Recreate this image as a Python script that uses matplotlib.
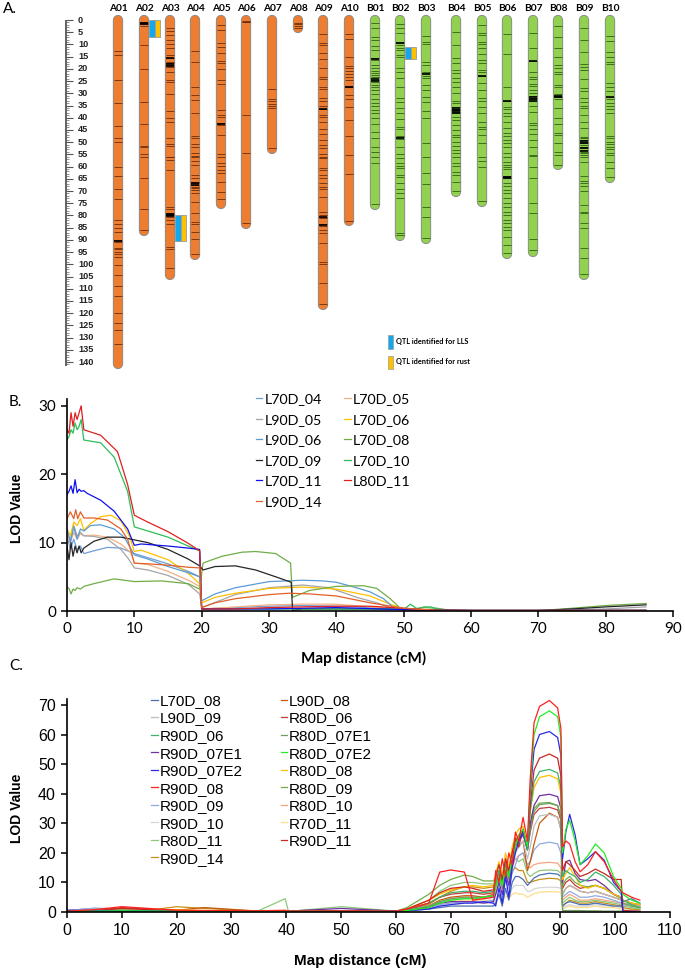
import matplotlib
matplotlib.use('Agg')
import matplotlib.pyplot as plt
from matplotlib.patches import Rectangle

plt.rcParams['font.family'] = ['Liberation Sans', 'DejaVu Sans']

# ---------------- panel A data (cM) ----------------
chrom_names = ['A01', 'A02', 'A03', 'A04', 'A05', 'A06', 'A07', 'A08', 'A09', 'A10',
               'B01', 'B02', 'B03', 'B04', 'B05', 'B06', 'B07', 'B08', 'B09', 'B10']
chrom_len = [141, 86.5, 104.5, 96.3, 75.2, 83.4, 52.7, 3.4, 116.5, 82.4,
             75.6, 88.4, 89.5, 70.4, 74.5, 95.7, 95, 59.5, 104.3, 64.7]
chrom_xpx = [118, 144, 170, 195, 221, 246, 272, 298, 323, 349,
             375, 400, 426, 456, 482, 507, 533, 558, 584, 610]

markers = {
    'A01': [12.7, 14.3, 24.5, 34, 43.4, 48.4, 49.8, 60.3, 63.7, 69.3, 73.3, 82, 83.5, 85.3, 86.6, 90, 90.7,
            93.2, 93.9, 94.8, 95.8, 96.9, 100.3, 104.5, 108.8, 112.8, 119.8, 123.9, 126.9, 132.8],
    'A02': [0.7, 1.4, 1.6, 2.5, 10.2, 20.2, 33.6, 42.7, 51.4, 52.1, 54.8, 55.9, 64.8, 77.5, 85.8],
    'A03': [3.4, 4.4, 6.1, 8.2, 9.8, 11.6, 14.3, 15.7, 17, 17.7, 18.4, 19.1, 21.1, 24.6, 25.2, 30.4, 37.1,
            40.2, 41.9, 48.2, 50.9, 51.6, 55.9, 56.2, 57.3, 61.4, 76.4, 77.5, 78.9, 79.5, 80.0, 80.5, 81.9,
            83.5, 92.8, 93.9, 101.6],
    'A04': [12.5, 17.3, 27.6, 30.7, 32.7, 38.2, 47.5, 48.4, 50.8, 51.9, 54.3, 55.7, 56.2, 57.6, 59.4, 63.4,
            64.8, 66.2, 66.9, 67.5, 68.2, 68.9, 69.6, 70.9, 74.6, 78.9, 82.5, 83.5, 86.6, 89.8, 95.8],
    'A05': [2, 4.1, 9.3, 10.9, 13.6, 16.8, 17.7, 20.1, 24.6, 26.2, 36.8, 38.9, 39.8, 42.3, 43, 47.1, 54.8,
            56.2, 58.7, 59.8, 61.4, 62.8, 66.2, 70.3, 73.3],
    'A06': [0.3, 0.7, 1.0, 38.9, 54.6, 83.0],
    'A07': [28.4, 32.3, 33.2, 34.5, 35.2, 36.2, 52.4],
    'A08': [1.1, 1.8, 2.5, 3.3],
    'A09': [5.9, 9.6, 10.2, 13.6, 16.1, 19.5, 23.2, 24.3, 27.3, 28.4, 32, 33, 35.2, 36.6, 38.9, 39.8, 41.9,
            44.8, 46.8, 49.1, 51.2, 52.5, 54.8, 55.9, 56.6, 60.7, 61.4, 63.4, 64.8, 66.9, 68.2, 69.2, 72.3,
            78.4, 79.8, 80.5, 81.2, 83.5, 84.3, 86, 87.1, 91.4, 98.9, 99.9, 107.5, 116.2],
    'A10': [5.9, 7.8, 15, 18.8, 19.8, 20.9, 22.1, 23.5, 24.6, 27, 27.6, 30.7, 32.5, 35.5, 41, 47.5, 55.3,
            63, 82.2],
    'B01': [1.4, 3.4, 7.1, 8.2, 10.6, 12.3, 15.7, 16.4, 18.4, 19.8, 20.7, 21.6, 22.5, 23.5, 24.5, 25.5, 26.5,
            27.5, 28.6, 30.4, 32.5, 34.1, 35.2, 36.8, 38.2, 40.2, 42.6, 45.7, 48.4, 51.8, 53.9, 55.9, 58.4, 75.3],
    'B02': [1.6, 3.4, 5.5, 8.9, 9.6, 10.2, 11.6, 12.3, 14.3, 15.3, 19.8, 21.1, 23.9, 27.6, 32, 33.4, 36.1,
            38.2, 40.7, 43.7, 44.5, 47.5, 48, 48.8, 51.8, 54.8, 56.4, 58.4, 59.8, 60.7, 63.4, 64.1, 66.9, 69.3,
            70.7, 72.7, 87.1, 88.2],
    'B03': [6.5, 8.9, 9.8, 17, 18.4, 21.1, 21.8, 22.9, 23.9, 26.6, 28.6, 31.4, 33.4, 37.1, 40.2, 50.5, 55.9,
            62.5, 67.1, 76.7, 80.8, 89.2],
    'B04': [4.8, 10.2, 15.7, 17.7, 20.5, 21.6, 23.9, 25.2, 27.6, 29.8, 33, 33.9, 35.8, 36.4, 37, 37.6, 38.2,
            39.8, 40.9, 43, 45, 47.1, 48, 49.8, 51.6, 53.2, 54.3, 55.9, 58.7, 59.8, 62.1, 63.4, 66.4, 70.1],
    'B05': [2, 5.5, 6.1, 8.9, 9.8, 11.6, 13.9, 16.4, 17.7, 20.5, 21.1, 22.9, 25.9, 28.6, 32, 33, 35.5, 38.2,
            41.6, 43.7, 44.7, 47.1, 50.5, 55.9, 57.6, 60, 74.2],
    'B06': [5.7, 13.9, 27.6, 33, 35.5, 36.6, 38.2, 39.3, 41.6, 44.4, 46.4, 47.5, 49.1, 50.5, 51.8, 54.6, 56,
            58, 59.4, 60, 61.1, 63.9, 64.4, 64.8, 66.9, 67.9, 69.6, 70.9, 73, 75, 76.4, 78.4, 79.8, 81.9, 83.2,
            84.6, 86, 89, 92.1, 95.4],
    'B07': [5.2, 11.6, 16.6, 21.1, 23.2, 24.3, 26.2, 27, 28.6, 29.8, 31.1, 31.8, 32.5, 33.2, 35.2, 37.5, 42,
            43, 44.8, 46.7, 49.1, 51.8, 55.3, 55.7, 60, 64.8, 75, 79.1, 89.8, 94.1],
    'B08': [2.5, 6.8, 11.6, 15, 18.4, 19.8, 21.1, 22.1, 26.6, 27.6, 30.2, 31, 31.6, 32.3, 36.1, 40.2, 42.6,
            46.4, 47.1, 50.5, 53.9, 55.3, 59.2],
    'B09': [3.4, 8.2, 12.9, 18, 19.1, 20.5, 24.3, 27.9, 28.9, 32, 33.4, 35.2, 36.1, 38.9, 41.6, 44.4, 47.7,
            48.4, 49.1, 49.8, 50.5, 51.2, 51.8, 52.5, 53.2, 53.9, 54.6, 55.3, 55.9, 58, 63.9, 65.9, 66.9, 67.8,
            69.9, 75.7, 78.4, 79.1, 83.2, 85.3, 93.5, 97.6, 104.0],
    'B10': [6.5, 8.4, 12.9, 15, 17, 18, 25.9, 27.3, 28.9, 31.4, 32.5, 33.8, 35.2, 36.5, 37.9, 47.5, 48.4,
            49.8, 50.8, 51.8, 52.9, 54.6, 55.3, 58, 60.7, 64.4],
}
dark_markers = {
    'A01': [90.3], 'A02': [1.2, 1.6], 'A03': [15.7, 18, 18.7, 79.3, 79.8, 80.3], 'A04': [66.9, 67.5],
    'A05': [42.7], 'A09': [36.6, 80.8, 83.8], 'A10': [27.3], 'B01': [16, 24, 25], 'B02': [9.6, 48.2],
    'B03': [22], 'B04': [36.2, 36.8, 37.4, 38], 'B05': [22.9], 'B06': [33, 64.2, 64.6],
    'B07': [16.6, 31.5, 32.3, 33], 'B08': [31, 31.6], 'B09': [49.5, 50.5, 52.3, 53.5], 'B10': [31.4],
}

qtl_chrom = ['A02', 'A03', 'B02']
qtl_start = [0, 80, 11]
qtl_end = [7, 90.5, 16]

# ---------------- panel B data ----------------
b_series = ['L70D_04', 'L70D_05', 'L90D_05', 'L70D_06', 'L90D_06', 'L70D_08',
            'L70D_09', 'L70D_10', 'L70D_11', 'L80D_11', 'L90D_14']
b_colors = {'L70D_04': '#6f9fd8', 'L70D_05': '#f4b183', 'L90D_05': '#a5a5a5', 'L70D_06': '#ffc000',
            'L90D_06': '#5b9bd5', 'L70D_08': '#70ad47', 'L70D_09': '#262626', 'L70D_10': '#2ebd59',
            'L70D_11': '#1010ee', 'L80D_11': '#e02020', 'L90D_14': '#e2602a'}

bx_L70D_04 = [0, 0.5, 1, 1.5, 2, 2.5, 4, 6, 8, 10, 12, 15, 18, 19.7, 20, 25, 30, 35, 40, 45, 50, 55, 60, 70, 80, 86]
by_L70D_04 = [11, 9, 10.5, 9, 9.5, 8.4, 8.8, 9.3, 9.2, 8.4, 7.8, 6.9, 5.8, 5, 0.3, 0.5, 0.7, 0.8, 0.7, 0.5, 0.2,
              0.1, 0.05, 0.05, 0.05, 0.05]
bx_L70D_05 = [0, 0.5, 1, 1.5, 2, 2.5, 4, 6, 8, 9.5, 10, 12, 15, 18, 19.7, 20, 25, 30, 35, 40, 45, 50, 55, 60, 70,
              80, 86]
by_L70D_05 = [11, 10, 11.5, 10.5, 11.3, 11, 11.1, 10.8, 9.8, 8.5, 7, 6.8, 5.8, 4.5, 3.6, 0.3, 0.6, 0.9, 1, 1, 0.6,
              0.3, 0.1, 0.05, 0.05, 0.05, 0.05]
bx_L90D_05 = [0, 0.5, 1, 1.5, 2, 2.5, 4, 6, 8, 9, 10, 12, 15, 18, 19.7, 20, 25, 30, 35, 39, 43, 46, 48.5, 50, 55,
              60, 70, 80, 86]
by_L90D_05 = [11.5, 10.5, 12.5, 11, 11.5, 11, 10.9, 10.5, 9, 7.8, 6.3, 6, 5.2, 3.9, 2.5, 0.5, 2.4, 3.4, 3.8, 3.4,
              2, 1.2, 0.3, 0.2, 0.1, 0.05, 0.05, 0.3, 0.6]
bx_L70D_06 = [0, 0.5, 1, 1.5, 2, 2.5, 3.5, 5, 6.5, 8, 9.3, 10, 11, 15, 18, 19.7, 20, 22, 25, 30, 35, 40, 45, 48,
              50, 55, 60, 70, 80, 86]
by_L70D_06 = [12, 11, 13, 12.5, 13.5, 11.8, 12.8, 13.8, 14, 13.2, 10.9, 8.7, 8.9, 7.5, 5.5, 4.0, 1.2, 2, 2.6, 3.3,
              3.5, 3.2, 2.2, 1, 0.3, 0.1, 0.05, 0.05, 0.05, 0.05]
bx_L90D_06 = [0, 0.5, 1, 1.5, 2, 2.5, 3.5, 5, 7, 8.5, 10, 12, 15, 18, 19.7, 20, 22, 25, 30, 35, 38, 40, 43, 45,
              47, 48.5, 50, 55, 60, 70, 80, 86]
by_L90D_06 = [12, 10, 12.3, 10.5, 12, 11.7, 12.5, 12.6, 12, 10.8, 8.2, 7.6, 6.5, 5.6, 5, 1.5, 2.5, 3.4, 4.3, 4.5,
              4.4, 4.2, 3.4, 2.8, 1.8, 0.5, 0.3, 0.1, 0.05, 0.05, 0.05, 0.05]
bx_L70D_08 = [0, 0.3, 0.6, 0.9, 1.2, 1.5, 2, 2.5, 4, 7, 10, 14, 18, 19.7, 20.2, 21, 23, 26, 28, 31, 33.2, 33.5,
              36, 40, 44, 46, 48, 49.5, 51, 53, 55, 57, 60, 70, 75, 80, 86]
by_L70D_08 = [3.5, 3.3, 2.5, 3.2, 3, 3.4, 3.2, 3.6, 4, 4.7, 4.3, 4.4, 4.0, 3.2, 7, 7.3, 8, 8.6, 8.7, 8.4, 7, 2, 3,
              3.6, 3.7, 3.3, 1.8, 0.4, 0.3, 0.5, 0.4, 0.1, 0.05, 0.05, 0.4, 0.8, 1.1]
bx_L70D_09 = [0, 0.3, 0.6, 0.9, 1.2, 1.5, 1.8, 2.1, 2.5, 4, 6, 8, 10, 12, 15, 18, 19.7, 20.2, 22, 25, 28, 31,
              33.3, 33.5, 35, 40, 45, 50, 55, 60, 70, 75, 80, 86]
by_L70D_09 = [9.5, 7.5, 10, 8, 9.5, 8.5, 9.5, 8.5, 9.2, 10.2, 10.8, 10.8, 10.4, 10, 9, 7.6, 6.6, 6, 6.5, 6.6, 6,
              5, 4.2, 0.1, 0.3, 0.3, 0.3, 0.2, 0.1, 0.05, 0.05, 0.3, 0.6, 0.9]
bx_L70D_10 = [0, 0.3, 0.6, 0.9, 1.2, 1.5, 1.8, 2.1, 2.5, 5, 7, 9, 10, 11, 15, 18, 19.7, 20, 30, 40, 48, 50, 51,
              52, 53, 54, 55, 56, 60, 70, 80, 86]
by_L70D_10 = [25, 25.5, 26.5, 26, 27.5, 26.5, 27, 28, 25, 24.6, 22.5, 17.5, 12.3, 12, 10.8, 9.5, 8.8, 0.3, 0.3,
              0.3, 0.3, 0.2, 1.0, 0.3, 0.6, 0.6, 0.3, 0.1, 0.1, 0.1, 0.1, 0.1]
bx_L70D_11 = [0, 0.3, 0.6, 0.9, 1.2, 1.5, 1.8, 2.1, 2.5, 3, 5, 7, 9, 10, 11, 15, 18, 19.7, 20, 30, 40, 50, 60,
              70, 80, 86]
by_L70D_11 = [17, 17.5, 18.3, 17.2, 19.2, 17.3, 17.8, 17.5, 17.6, 17.2, 16.2, 14.6, 12, 9.6, 9.8, 9.5, 9.2, 9.0,
              0.3, 0.3, 0.5, 0.2, 0.1, 0.1, 0.1, 0.1]
bx_L80D_11 = [0, 0.3, 0.6, 0.9, 1.2, 1.5, 1.8, 2.1, 2.5, 5, 7.5, 9, 10, 12, 15, 18, 19.7, 20, 25, 30, 35, 40, 45,
              50, 55, 60, 70, 80, 86]
by_L80D_11 = [26.5, 26, 29, 27, 29, 28, 29, 30, 26.5, 25.7, 23.3, 18.5, 14, 13, 11.6, 9.9, 8.8, 0.3, 0.3, 0.5,
              0.6, 0.7, 0.7, 0.4, 0.1, 0.1, 0.1, 0.1, 0.1]
bx_L90D_14 = [0, 0.5, 1, 1.3, 1.6, 2, 2.5, 4, 6, 8, 9, 10, 12, 15, 18, 19.7, 20, 22, 25, 30, 33, 36, 40, 45, 50,
              55, 60, 70, 80, 86]
by_L90D_14 = [13.5, 14.5, 13.5, 14.8, 13.5, 14.5, 13.6, 13.6, 13.3, 12, 10.5, 7, 6.9, 6.7, 6.4, 6.3, 0.5, 1.2,
              1.8, 2.4, 2.6, 2.5, 2.2, 1.2, 0.4, 0.1, 0.05, 0.05, 0.05, 0.05]

b_data = {
    'L70D_04': (bx_L70D_04, by_L70D_04), 'L70D_05': (bx_L70D_05, by_L70D_05),
    'L90D_05': (bx_L90D_05, by_L90D_05), 'L70D_06': (bx_L70D_06, by_L70D_06),
    'L90D_06': (bx_L90D_06, by_L90D_06), 'L70D_08': (bx_L70D_08, by_L70D_08),
    'L70D_09': (bx_L70D_09, by_L70D_09), 'L70D_10': (bx_L70D_10, by_L70D_10),
    'L70D_11': (bx_L70D_11, by_L70D_11), 'L80D_11': (bx_L80D_11, by_L80D_11),
    'L90D_14': (bx_L90D_14, by_L90D_14),
}
b_legend_order = ['L70D_04', 'L90D_05', 'L90D_06', 'L70D_09', 'L70D_11', 'L90D_14',
                  'L70D_05', 'L70D_06', 'L70D_08', 'L70D_10', 'L80D_11']

# ---------------- panel C data ----------------
c_x = [0, 5, 10, 15, 20, 25, 35, 39.8, 40.4, 50, 60,
       62, 66, 68, 70, 72.5, 74, 76, 77.8,
       78.2, 78.8, 79.4, 80, 80.6, 81.2, 81.8, 82.4, 83.2, 84,
       84.5, 85.2, 86.2, 88, 89.5, 90.1, 90.4,
       91, 91.7, 92.7, 93.6, 95, 96.4, 98, 99.7, 101.1, 101.4, 103, 104.5]

c_L70D_08 = [0.5, 1.2, 0.8, 0.5, 0.3, 0.3, 0.3, 0.3, 0.2, 0.3, 0.2,
             0.3, 1, 1.5, 2, 2, 2, 2, 2,
             3, 6, 2, 8, 4, 10, 12, 12, 11, 9,
             10, 11.5, 12.5, 13.1, 12.8, 12, 2,
             3, 3.5, 3, 2.5, 2.5, 3, 2.5, 2, 2, 3.5, 4.5, 3]
c_L90D_09 = [0.4, 1, 0.8, 0.6, 0.4, 0.3, 0.3, 0.3, 0.2, 0.3, 0.2,
             0.5, 2, 3.5, 4, 4.5, 4.5, 4.5, 5,
             8, 12, 8, 14, 10, 16, 20, 22, 24, 18,
             22, 29, 32.5, 33, 32, 28, 6,
             8, 9, 8, 7, 6.5, 7, 6, 5, 4, 3, 2.5, 2]
c_R90D_06 = [0.3, 0.5, 0.6, 0.5, 0.4, 0.3, 0.3, 0.4, 0.2, 0.3, 0.2,
             0.8, 3, 5, 6.5, 7, 7, 6.5, 7,
             10, 14, 9, 17, 13, 19, 24, 25, 27, 21,
             34, 44, 47.5, 48.2, 47, 42, 12,
             14, 13, 12, 10, 11, 13.5, 12, 9, 6, 4, 2.5, 1.5]
c_R90D_07E1 = [0.2, 0.3, 0.3, 0.3, 0.3, 0.3, 0.3, 0.4, 0.3, 1.2, 0.3,
               0.5, 1.5, 3, 3.5, 3.5, 3.5, 3, 3.5,
               6, 10, 6, 13, 9, 16, 22, 24, 26, 21,
               30, 36, 39.3, 39.8, 39, 35, 10,
               17, 17.5, 13, 11, 10.5, 11, 9, 6, 5, 0.5, 0.3, 0.2]
c_R90D_07E2 = [0.6, 0.5, 0.4, 0.3, 0.3, 0.3, 0.2, 0.3, 0.2, 0.3, 0.3,
               0.5, 1, 2, 2.5, 3, 3, 3.5, 3,
               2, 8, 3, 12, 5, 15, 20, 24, 27, 22,
               40, 55, 60, 61, 59, 53, 18,
               27, 33, 26, 16, 18, 20.4, 17.5, 10, 7, 0, 0, 0]
c_R90D_08 = [0.3, 0.8, 1.8, 1.2, 0.6, 0.5, 0.4, 0.6, 0.3, 0.4, 0.3,
             1, 3, 13.5, 14.2, 13.5, 4, 4.5, 5,
             14, 10, 18, 12, 20, 16, 27, 24, 32, 24,
             45, 64, 69.5, 71.5, 69, 62, 22,
             24, 23, 17, 13.6, 16, 20.4, 17, 11, 7, 6.5, 5, 4]
c_R90D_09 = [0.5, 1.3, 1, 0.6, 0.4, 0.3, 0.3, 0.3, 0.2, 0.3, 0.2,
             0.4, 1.5, 2.5, 3, 3.5, 3.5, 3.5, 4,
             6, 9, 5, 11, 8, 13, 16, 19, 20, 16,
             17, 21, 23, 23.6, 23, 20, 5,
             6, 7, 6, 5, 5, 5.5, 5, 4, 3, 2.5, 2, 1.5]
c_R90D_10 = [0.2, 0.3, 0.4, 0.4, 0.3, 0.3, 0.3, 0.3, 0.2, 0.3, 0.2,
             0.3, 1, 2, 2.5, 3, 3, 3, 3,
             4, 6, 4, 7, 5, 8, 9, 9, 9, 7,
             7, 7.8, 8.2, 8.4, 8.3, 8, 1.5,
             2, 2.5, 2, 2, 2, 2.5, 2, 2, 1.5, 1, 1, 0.8]
c_R80D_11 = [0.3, 0.3, 0.3, 0.3, 0.3, 0.3, 0.5, 4.5, 0.2, 1.8, 0.3,
             1, 4, 7, 9, 10, 10, 9.5, 9.5,
             10, 13, 10, 15, 12, 16, 18, 17, 18, 13,
             12, 13, 14, 14.2, 14, 13, 3,
             4, 5, 4, 3.5, 3.5, 4, 3.5, 3, 2.5, 2, 1.5, 1]
c_R90D_14 = [0.3, 0.4, 0.5, 0.6, 1.8, 1.2, 0.3, 0.3, 0.2, 0.3, 0.2,
             0.6, 2.5, 5, 7, 8.5, 8.5, 8, 8.5,
             10, 12, 9, 13, 10, 14, 15, 14, 14, 10,
             10, 10.5, 11, 11.4, 11.2, 10.5, 2,
             3, 4, 3.5, 3, 3, 3.5, 3, 2.5, 2, 1.5, 1, 0.8]
c_L90D_08 = [0.2, 0.3, 0.5, 0.4, 0.6, 1.5, 0.3, 0.3, 0.2, 0.3, 0.2,
             0.5, 2, 4, 5, 5.5, 5.5, 5, 6,
             9, 13, 9, 15, 11, 17, 21, 22, 24, 14,
             17, 23, 30, 33.4, 32, 28, 6,
             8, 9, 8, 7, 6.5, 7, 6, 5, 4, 3, 2.5, 2]
c_R80D_06 = [0.2, 0.4, 1.5, 1, 0.5, 0.3, 0.3, 0.3, 0.2, 0.3, 0.2,
             0.8, 3, 5, 6, 6.5, 6.5, 6, 6.5,
             10, 14, 10, 16, 12, 18, 23, 25, 27, 21,
             27, 33, 35, 35.4, 34.5, 31, 8,
             10, 11, 9, 8, 8.5, 9, 8, 6, 5, 4, 3, 2.5]
c_R80D_07E1 = [0.2, 0.3, 0.3, 0.3, 0.3, 0.3, 0.2, 0.3, 0.2, 0.3, 0.2,
               0.5, 2, 3.5, 4.5, 5, 5, 5, 5.5,
               9, 13, 8, 15, 11, 18, 22, 25, 27, 21,
               28, 34, 36.3, 36.7, 36, 32, 0.5,
               0.5, 0.5, 0.5, 0.5, 0.4, 0.4, 0.3, 0.3, 0.3, 0.3, 0.2, 0.2]
c_R80D_07E2 = [0.2, 0.3, 0.4, 0.3, 0.3, 0.2, 0.2, 0.3, 0.2, 0.3, 0.2,
               0.5, 1.5, 3, 4, 4.5, 4.5, 5, 5.5,
               8, 12, 9, 15, 12, 18, 22, 26, 28, 22,
               42, 60, 66, 68, 66, 59, 20,
               28, 31, 24, 16, 19, 23, 20, 12, 8, 6, 4, 3]
c_R80D_08 = [0.3, 0.5, 0.6, 0.6, 0.8, 0.5, 0.3, 0.3, 0.2, 0.3, 0.2,
             1, 4, 6, 7.5, 8.5, 9, 8.5, 9,
             13, 17, 12, 20, 15, 22, 26, 28, 29, 22,
             34, 42, 45.5, 46.2, 45, 40, 11,
             13, 15, 12, 9, 8, 9, 8, 6, 5, 4, 3, 2.5]
c_R80D_09 = [0.3, 0.4, 0.5, 0.4, 0.3, 0.3, 0.3, 0.3, 0.2, 0.4, 0.2,
             1.5, 6, 9, 11, 12.5, 12, 10.5, 10.5,
             12, 16, 12, 18, 14, 20, 24, 26, 27, 22,
             29, 35, 36.8, 37, 36, 32, 9,
             11, 12, 10, 9, 8.5, 9, 8, 6, 4.5, 3, 2, 1.5]
c_R80D_10 = [0.3, 0.6, 1.2, 0.8, 0.4, 0.3, 0.3, 0.3, 0.2, 0.3, 0.2,
             0.5, 2, 3.5, 4.5, 5, 5, 5, 5.5,
             8, 11, 8, 13, 10, 15, 18, 19, 20, 15,
             15, 16, 16.5, 16.8, 16.5, 15, 4,
             5, 6, 5, 4, 4, 4.5, 4, 3.5, 3, 2.5, 2, 1.5]
c_R70D_11 = [0.2, 0.3, 0.3, 0.3, 0.3, 0.3, 0.2, 0.2, 0.2, 0.3, 0.2,
             0.5, 1.5, 2.5, 3.5, 4, 4, 4, 4,
             4.5, 5, 4, 5.5, 4.5, 6, 6.5, 6, 6, 5,
             5.5, 6.2, 6.7, 6.9, 6.8, 6.5, 1,
             1.5, 2, 1.5, 1.5, 1.5, 2, 1.5, 1.5, 1, 1, 0.8, 0.6]
c_R90D_11 = [0.2, 0.4, 1.2, 0.8, 0.5, 0.4, 0.3, 0.4, 0.2, 0.3, 0.3,
             1, 4, 6.5, 8, 8.5, 8, 7, 7.5,
             12, 16, 11, 18, 14, 20, 25, 22, 28, 22,
             36, 48, 52, 53.4, 52, 46, 14,
             17, 16, 14, 12, 13, 14.5, 13, 11, 11, 0.5, 0.3, 0.2]

c_data = {
    'L70D_08': c_L70D_08, 'L90D_09': c_L90D_09, 'R90D_06': c_R90D_06, 'R90D_07E1': c_R90D_07E1,
    'R90D_07E2': c_R90D_07E2, 'R90D_08': c_R90D_08, 'R90D_09': c_R90D_09, 'R90D_10': c_R90D_10,
    'R80D_11': c_R80D_11, 'R90D_14': c_R90D_14, 'L90D_08': c_L90D_08, 'R80D_06': c_R80D_06,
    'R80D_07E1': c_R80D_07E1, 'R80D_07E2': c_R80D_07E2, 'R80D_08': c_R80D_08, 'R80D_09': c_R80D_09,
    'R80D_10': c_R80D_10, 'R70D_11': c_R70D_11, 'R90D_11': c_R90D_11,
}
c_colors = {
    'L70D_08': '#4a6fb5', 'L90D_09': '#bdbdbd', 'R90D_06': '#3cb36a', 'R90D_07E1': '#7030a0',
    'R90D_07E2': '#2a2ae6', 'R90D_08': '#ff2020', 'R90D_09': '#8faadc', 'R90D_10': '#d6d6d6',
    'R80D_11': '#8cc97a', 'R90D_14': '#c8901a', 'L90D_08': '#c55a11', 'R80D_06': '#c83a3a',
    'R80D_07E1': '#6e9e5e', 'R80D_07E2': '#22ee22', 'R80D_08': '#ffc000', 'R80D_09': '#70ad47',
    'R80D_10': '#f4a582', 'R70D_11': '#ffdf8a', 'R90D_11': '#c8281e',
}
c_draw_order = ['R70D_11', 'R90D_10', 'R90D_14', 'L70D_08', 'R80D_11', 'R80D_10', 'R90D_09', 'L90D_08',
                'L90D_09', 'R80D_06', 'R80D_09', 'R80D_07E1', 'R90D_07E1', 'R80D_08', 'R90D_06', 'R90D_11',
                'R90D_07E2', 'R80D_07E2', 'R90D_08']

# ==================================================================
W, H = 685, 972
fig = plt.figure(figsize=(6.85, 9.72), dpi=100)


def fx(px):
    return px / W


def fy(py):
    return 1 - py / H


# ---------------- panel A ----------------
axA = fig.add_axes([0, fy(380), 1, 380 / H])
axA.set_xlim(0, W)
axA.set_ylim(147.36, -8.19)
axA.axis('off')

# ruler
axA.plot([66, 66], [0, 141.5], color='#555555', lw=1.3, solid_capstyle='butt')
axA.hlines([t for t in range(0, 142) if t % 5], 66, 69.5, color='#666666', lw=0.5)
axA.hlines(list(range(0, 141, 5)), 66, 73, color='#555555', lw=0.8)
for t in range(0, 141, 5):
    axA.text(78, t, str(t), ha='left', va='center', fontsize=6.6, fontweight='bold', color='#222222')

for name, L, xc in zip(chrom_names, chrom_len, chrom_xpx):
    fill = '#ED7D31' if name[0] == 'A' else '#92D050'
    mk = '#6b2c08' if name[0] == 'A' else '#2f5e12'
    axA.plot([xc, xc], [0, L], color='#8c8c8c', lw=7.4, solid_capstyle='round')
    axA.plot([xc, xc], [0, L], color=fill, lw=6.1, solid_capstyle='round')
    axA.hlines(markers[name], xc - 4.2, xc + 4.2, color=mk, lw=0.7, alpha=0.85)
    if name in dark_markers:
        axA.hlines(dark_markers[name], xc - 4.2, xc + 4.2, color='black', lw=1.2)
    axA.text(xc, -4.9, name, ha='center', va='center', fontsize=7.3, fontweight='bold',
             family=['Lato', 'DejaVu Sans'])

for ch, s, e in zip(qtl_chrom, qtl_start, qtl_end):
    xc = chrom_xpx[chrom_names.index(ch)]
    axA.add_patch(Rectangle((xc + 5.5, s), 5.5, e - s, facecolor='#12a8ee', edgecolor='#9a9a9a', lw=0.6))
    axA.add_patch(Rectangle((xc + 11, s), 5.5, e - s, facecolor='#ffc000', edgecolor='#9a9a9a', lw=0.6))

axA.add_patch(Rectangle((388, 128.9), 5, 5.7, facecolor='#12a8ee', edgecolor='#9a9a9a', lw=0.5))
axA.add_patch(Rectangle((388, 137.5), 5, 5.4, facecolor='#ffc000', edgecolor='#9a9a9a', lw=0.5))
axA.text(396, 131.6, 'QTL identified for LLS', ha='left', va='center', fontsize=5.3, fontweight='bold',
         family=['Lato', 'DejaVu Sans'])
axA.text(396, 139.8, 'QTL identified for rust', ha='left', va='center', fontsize=5.3, fontweight='bold',
         family=['Lato', 'DejaVu Sans'])

fig.text(fx(3), fy(9), 'A.', ha='left', va='center', fontsize=11, family=['Lato', 'DejaVu Sans'])


def style_axes(ax, font, size):
    for side in ['top', 'right']:
        ax.spines[side].set_visible(False)
    for side in ['left', 'bottom']:
        ax.spines[side].set_linewidth(1.2)
        ax.spines[side].set_color('black')
    ax.tick_params(direction='out', length=4, width=1.1, labelsize=size, pad=4)
    for lab in ax.get_xticklabels() + ax.get_yticklabels():
        lab.set_family(font)


# ---------------- panel B ----------------
axB = fig.add_axes([fx(67), fy(611), fx(673) - fx(67), (611 - 399) / H])
axB.set_xlim(0, 90)
axB.set_ylim(0, 31)
axB.set_xticks(range(0, 91, 10))
axB.set_yticks([0, 10, 20, 30])
lines_b = {}
for name in b_series:
    xs, ys = b_data[name]
    lines_b[name], = axB.plot(xs, ys, color=b_colors[name], lw=0.9, label=name)
style_axes(axB, ['Lato', 'DejaVu Sans'], 11)
axB.legend([lines_b[n] for n in b_legend_order], b_legend_order, ncol=2, loc='upper left',
           bbox_to_anchor=(fx(256), fy(393)), bbox_transform=fig.transFigure, frameon=False,
           borderaxespad=0, borderpad=0, handlelength=0.45, handletextpad=0.15, columnspacing=1.55,
           labelspacing=0.6, prop={'family': ['Lato', 'DejaVu Sans'], 'size': 10.3})
fig.text(fx(9), fy(402), 'B.', ha='left', va='center', fontsize=11, family=['Lato', 'DejaVu Sans'])
fig.text(fx(17), fy(508), 'LOD Value', rotation=90, ha='center', va='center', fontsize=10,
         fontweight='bold')
fig.text(fx(364), fy(658), 'Map distance (cM)', ha='center', va='center', fontsize=11,
         fontweight='bold', family=['Lato', 'DejaVu Sans'])

# ---------------- panel C ----------------
axC = fig.add_axes([fx(67), fy(912), fx(670) - fx(67), (912 - 699) / H])
axC.set_xlim(0, 110)
axC.set_ylim(0, 72)
axC.set_xticks(range(0, 111, 10))
axC.set_yticks(range(0, 71, 10))
lines_c = {}
for name in c_draw_order:
    lines_c[name], = axC.plot(c_x, c_data[name], color=c_colors[name], lw=0.9, label=name)
style_axes(axC, ['Liberation Sans', 'DejaVu Sans'], 11.5)
c_names = list(c_data.keys())
axC.legend([lines_c[n] for n in c_names], c_names, ncol=2, loc='upper left',
           bbox_to_anchor=(fx(151), fy(694)), bbox_transform=fig.transFigure, frameon=False,
           borderaxespad=0, borderpad=0, handlelength=0.45, handletextpad=0.1, columnspacing=2.5,
           labelspacing=0.23, prop={'size': 11})
fig.text(fx(9), fy(666), 'C.', ha='left', va='center', fontsize=11, family=['Lato', 'DejaVu Sans'])
fig.text(fx(17), fy(808), 'LOD Value', rotation=90, ha='center', va='center', fontsize=10,
         fontweight='bold')
fig.text(fx(360), fy(961), 'Map distance (cM)', ha='center', va='center', fontsize=11,
         fontweight='bold')

fig.savefig('out.png', dpi=100)
